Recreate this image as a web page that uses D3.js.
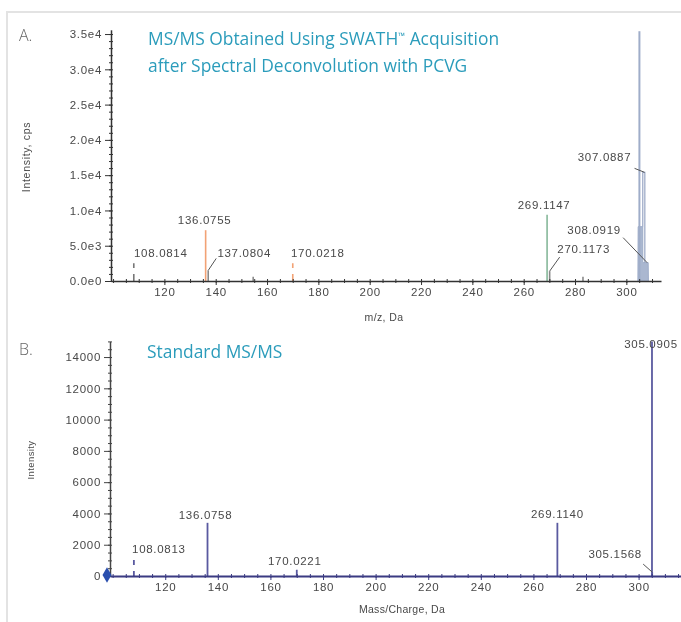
<!DOCTYPE html>
<html>
<head>
<meta charset="utf-8">
<script src="https://cdn.jsdelivr.net/npm/d3@7/dist/d3.min.js"></script>
<style>
  html, body { margin: 0; padding: 0; background: #fff; }
  svg { display: block; }
</style>
</head>
<body>
<svg id="chart" width="681" height="622"></svg>
<script>
// ---------- Panel A: SWATH MS/MS after PCVG deconvolution ----------
const aStickMz        = [108.0814, 136.0755, 137.0804, 154.6, 170.0218, 269.1147, 270.1173, 283.1, 305.09];
const aStickIntensity = [2500,     7200,     1500,     600,   2500,     9400,     1400,     600,   35400];
const aStickGroup     = ["dash",   "orange", "grey",   "grey","dashOrange","green","grey",   "grey","cluster"];

// profile of the unresolved cluster beside the base peak
const aClusterFillMz        = [304.5, 304.6, 306.4, 306.4, 308.5, 308.6];
const aClusterFillIntensity = [0,     7700,  7700,  2600,  2600,  0];
const aClusterPeakMz        = [306.4, 306.4, 307.2, 307.2];
const aClusterPeakIntensity = [7700,  15400, 15400, 2600];

const aLabelMz        = [108.0814, 136.0755, 137.0804, 170.0218, 269.1147, 270.1173, 307.0887, 308.0919];
const aLabelIntensity = [2500,     7200,     1500,     2500,     9400,     1400,     15400,    2600];

const aYTicks = [0, 5000, 10000, 15000, 20000, 25000, 30000, 35000];
const xTicks  = [120, 140, 160, 180, 200, 220, 240, 260, 280, 300];

// ---------- Panel B: standard MS/MS ----------
const bStickMz        = [108.0813, 136.0758, 170.0221, 269.1140, 305.0905, 305.1568];
const bStickIntensity = [1100,     3400,     400,      3400,     15000,    250];
const bStickGroup     = ["dash",   "solid",  "solid",  "solid",  "solid",  "solid"];

const bLabelMz        = [108.0813, 136.0758, 170.0221, 269.1140, 305.0905, 305.1568];
const bLabelIntensity = [1100,     3400,     400,      3400,     15000,    250];

const bYTicks = [0, 2000, 4000, 6000, 8000, 10000, 12000, 14000];

// ---------- layout (pixel offsets of peak labels from the peak top) ----------
const aLabelOffsets = [[27, -6], [-1, -6], [36, -13], [25, -6], [-3, -6], [34, -18], [-40, -11], [-53, -29]];
const aLeaderStart  = [null, null, [-28, 1], null, null, [-24, 4], [30, 7], [29, 4]];
const bLabelOffsets = [[25, -6], [-2, -4], [-2, -5], [0, -5], [-1, 7], [-37, -14]];
const bLeaderStart  = [null, null, null, null, null, [28, 6]];

const svg = d3.select("#chart");
const W = 681, H = 622;
svg.append("rect").attr("width", W).attr("height", H).attr("fill", "#fff");

// soft look of the exported instrument plots
const defs = svg.append("defs");
defs.append("filter").attr("id", "soft")
  .attr("x", "-5%").attr("y", "-5%").attr("width", "110%").attr("height", "110%")
  .append("feGaussianBlur").attr("stdDeviation", 0.5);

// page frame
svg.append("rect")
  .attr("x", 7).attr("y", 12).attr("width", 720).attr("height", 660)
  .attr("fill", "none").attr("stroke", "#e3e3e3").attr("stroke-width", 2);

const numFont = "'Liberation Sans', Arial, sans-serif";
const txtGrey = "#484848";

function styleAxis(g, color) {
  g.selectAll("text")
    .attr("font-family", numFont)
    .attr("font-size", 11.5)
    .attr("letter-spacing", 0.7)
    .attr("fill", txtGrey);
  g.selectAll("line").attr("stroke", color);
  g.select(".domain").attr("stroke", color);
}

function minorTicks(g, scale, values, orient, color) {
  const ax = (orient === "left" ? d3.axisLeft(scale) : d3.axisBottom(scale))
    .tickValues(values).tickSize(0).tickFormat("");
  g.call(ax);
  g.select(".domain").remove();
  g.selectAll(".tick line").each(function () {
    const l = d3.select(this);
    if (orient === "left") l.attr("x1", -2).attr("x2", 2);
    else l.attr("y1", -2).attr("y2", 2);
  }).attr("stroke", color).attr("stroke-width", 1);
}

function drawLabels(g, xs, ys, mzs, intens, offsets, leaders) {
  mzs.forEach((mz, i) => {
    const px = xs(mz), py = ys(intens[i]);
    const lx = px + offsets[i][0], ly = py + offsets[i][1];
    g.append("text")
      .attr("x", lx).attr("y", ly)
      .attr("text-anchor", "middle")
      .attr("font-family", numFont)
      .attr("font-size", 11.5)
      .attr("letter-spacing", 0.7)
      .attr("fill", txtGrey)
      .text(mz.toFixed(4));
    if (leaders[i]) {
      g.append("line")
        .attr("x1", lx + leaders[i][0]).attr("y1", ly + leaders[i][1])
        .attr("x2", px).attr("y2", py)
        .attr("stroke", "#555").attr("stroke-width", 1);
    }
  });
}

// ================= Panel A =================
const xA = d3.scaleLinear().domain([99.2, 313.5]).range([111, 661]);
const yA = d3.scaleLinear().domain([0, 35600]).range([281, 29.8]);
const gA = svg.append("g").attr("filter", "url(#soft)");

const colorsA = { orange: "#f2a274", dashOrange: "#f2a274", green: "#86b89a", grey: "#8a8a8a", dash: "#777", cluster: "#9fadc9" };

// cluster fill and outline
gA.append("path")
  .datum(aClusterFillMz.map((m, i) => [m, aClusterFillIntensity[i]]))
  .attr("d", d3.line().x(d => xA(d[0])).y(d => yA(d[1])))
  .attr("fill", "#aab7d0").attr("stroke", "#9fadc9").attr("stroke-width", 1);
gA.append("path")
  .datum(aClusterPeakMz.map((m, i) => [m, aClusterPeakIntensity[i]]))
  .attr("d", d3.line().x(d => xA(d[0])).y(d => yA(d[1])))
  .attr("fill", "none").attr("stroke", "#98a6c4").attr("stroke-width", 1.2);

// stick spectrum
gA.selectAll(".stickA")
  .data(aStickMz.map((m, i) => ({ mz: m, v: aStickIntensity[i], g: aStickGroup[i] })))
  .join("line")
  .attr("x1", d => xA(d.mz)).attr("x2", d => xA(d.mz))
  .attr("y1", yA(0)).attr("y2", d => yA(d.v))
  .attr("stroke", d => colorsA[d.g])
  .attr("stroke-width", d => (d.g === "cluster" ? 2 : 1.6))
  .attr("stroke-dasharray", d => (d.g.startsWith("dash") ? "7,6" : null));

// axes
const yAxisA = gA.append("g").attr("transform", `translate(${xA.range()[0]},0)`);
minorTicks(yAxisA.append("g"), yA, d3.range(0, 35001, 1000), "left", "#333");
yAxisA.append("g").call(
  d3.axisLeft(yA).tickValues(aYTicks).tickSize(6).tickSizeOuter(0)
    .tickFormat(d => d3.format(".1e")(d).replace("e+", "e"))
).call(g => styleAxis(g, "#333"));
yAxisA.select(".domain").attr("stroke-width", 1.5);

const xAxisA = gA.append("g").attr("transform", `translate(0,${yA(0)})`);
minorTicks(xAxisA.append("g"), xA, d3.range(100, 311, 5), "bottom", "#333");
xAxisA.append("g").call(
  d3.axisBottom(xA).tickValues(xTicks).tickSize(4).tickSizeOuter(0).tickFormat(d3.format("d"))
).call(g => styleAxis(g, "#333"));
xAxisA.selectAll(".domain").attr("stroke-width", 1.5);

drawLabels(gA, xA, yA, aLabelMz, aLabelIntensity, aLabelOffsets, aLeaderStart);

gA.append("text")
  .attr("transform", `translate(30,157) rotate(-90)`)
  .attr("text-anchor", "middle")
  .attr("font-family", numFont).attr("font-size", 10.5).attr("letter-spacing", 0.7)
  .attr("fill", txtGrey).text("Intensity, cps");
gA.append("text")
  .attr("x", 384).attr("y", 321)
  .attr("text-anchor", "middle")
  .attr("font-family", numFont).attr("font-size", 10.5).attr("letter-spacing", 0.4)
  .attr("fill", txtGrey).text("m/z, Da");

// ================= Panel B =================
const xB = d3.scaleLinear().domain([99, 320]).range([110, 691.2]);
const yB = d3.scaleLinear().domain([0, 15000]).range([576, 341.4]);
const gB = svg.append("g").attr("filter", "url(#soft)");

gB.selectAll(".stickB")
  .data(bStickMz.map((m, i) => ({ mz: m, v: bStickIntensity[i], g: bStickGroup[i] })))
  .join("line")
  .attr("x1", d => xB(d.mz)).attr("x2", d => xB(d.mz))
  .attr("y1", yB(0)).attr("y2", d => yB(d.v))
  .attr("stroke", "#5a5aa0")
  .attr("stroke-width", 1.8)
  .attr("stroke-dasharray", d => (d.g === "dash" ? "5,6" : null));

const yAxisB = gB.append("g").attr("transform", `translate(${xB.range()[0]},0)`);
minorTicks(yAxisB.append("g"), yB, d3.range(0, 15001, 500), "left", "#444");
yAxisB.append("g").call(
  d3.axisLeft(yB).tickValues(bYTicks).tickSize(6).tickSizeOuter(0).tickFormat(d3.format("d"))
).call(g => styleAxis(g, "#444"));
yAxisB.select(".domain").attr("stroke-width", 1.5);

const xAxisB = gB.append("g").attr("transform", `translate(0,${yB(0)})`);
minorTicks(xAxisB.append("g"), xB, d3.range(100, 321, 5), "bottom", "#3b3b82");
xAxisB.append("g").call(
  d3.axisBottom(xB).tickValues(xTicks).tickSize(4).tickSizeOuter(0).tickFormat(d3.format("d"))
).call(g => styleAxis(g, "#3b3b82"));
xAxisB.selectAll(".domain").attr("stroke-width", 2.2);
xAxisB.selectAll(".tick text").attr("fill", txtGrey);

// zero marker on the baseline
gB.append("path")
  .attr("transform", `translate(${xB.range()[0] - 3},${yB(0) - 1})`)
  .attr("d", d3.symbol(d3.symbolDiamond, 70)())
  .attr("fill", "#2b4fae");

drawLabels(gB, xB, yB, bLabelMz, bLabelIntensity, bLabelOffsets, bLeaderStart);

gB.append("text")
  .attr("transform", `translate(34,460) rotate(-90)`)
  .attr("text-anchor", "middle")
  .attr("font-family", numFont).attr("font-size", 9.5).attr("letter-spacing", 0.4)
  .attr("fill", txtGrey).text("Intensity");
gB.append("text")
  .attr("x", 402).attr("y", 613)
  .attr("text-anchor", "middle")
  .attr("font-family", numFont).attr("font-size", 10.5).attr("letter-spacing", 0.3)
  .attr("fill", txtGrey).text("Mass/Charge, Da");

// ================= Panel captions =================
const capFont = "'Open Sans', 'Noto Sans', sans-serif";
svg.append("text").attr("x", 19).attr("y", 41)
  .attr("font-family", capFont).attr("font-size", 16).attr("font-weight", 300)
  .attr("fill", "#666").text("A.");
svg.append("text").attr("x", 19).attr("y", 355)
  .attr("font-family", capFont).attr("font-size", 16).attr("font-weight", 300)
  .attr("fill", "#666").text("B.");

const teal = "#2b9cbb";
const t1 = svg.append("text").attr("x", 148).attr("y", 45)
  .attr("font-family", capFont).attr("font-size", 17.4)
  .attr("fill", teal);
t1.append("tspan").text("MS/MS Obtained Using SWATH");
t1.append("tspan").attr("font-size", 9).attr("dy", -6).text("™");
t1.append("tspan").attr("dy", 6).text(" Acquisition");
svg.append("text").attr("x", 148).attr("y", 72)
  .attr("font-family", capFont).attr("font-size", 17.4)
  .attr("fill", teal).text("after Spectral Deconvolution with PCVG");
svg.append("text").attr("x", 147).attr("y", 358)
  .attr("font-family", capFont).attr("font-size", 17.4)
  .attr("fill", teal).text("Standard MS/MS");
</script>
</body>
</html>
